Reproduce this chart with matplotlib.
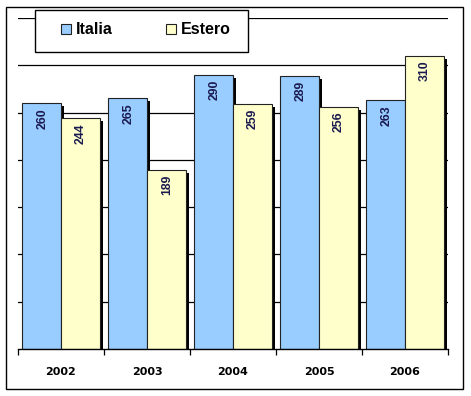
import numpy as np
import matplotlib
matplotlib.use("Agg")
import matplotlib.pyplot as plt
from matplotlib.patches import Rectangle

# data
anni = ["2002", "2003", "2004", "2005", "2006"]
italia = [260, 265, 290, 289, 263]
estero = [244, 189, 259, 256, 310]

col_italia = "#99CCFF"
col_estero = "#FFFFCC"
col_label = "#1a1a50"

W, H = 471, 396
fig = plt.figure(figsize=(W / 100, H / 100), dpi=100)
fig.patch.set_facecolor("white")

# plot area in pixels: x 18..448, y 18..349
ax = fig.add_axes([18 / W, 1 - 349 / H, 430 / W, 331 / H])
x = np.arange(len(anni))
bw = 0.45
dx = 3 / 86.0      # shadow offset (3 px) in category units
dy = 3 / 0.946     # shadow offset (3 px) in value units

# shadows first
ax.bar(x - 0.227 + dx, np.array(italia) - dy, bw, color="black", zorder=2)
ax.bar(x + 0.223 + dx, np.array(estero) - dy, bw, color="black", zorder=2)

b1 = ax.bar(x - 0.227, italia, bw, color=col_italia, edgecolor="#222222",
            linewidth=0.8, zorder=3, label="Italia")
b2 = ax.bar(x + 0.223, estero, bw, color=col_estero, edgecolor="#222222",
            linewidth=0.8, zorder=3, label="Estero")

for bars, vals in ((b1, italia), (b2, estero)):
    for r, v in zip(bars, vals):
        ax.annotate(str(v), (r.get_x() + r.get_width() / 2, v),
                    xytext=(0.5, -3.5), textcoords="offset points",
                    ha="center", va="top", rotation=90,
                    family="Liberation Sans", fontsize=8.8, fontweight="bold",
                    color=col_label, zorder=4)

ax.set_xlim(-0.5, len(anni) - 0.5)
ax.set_ylim(0, 350)
ax.set_yticks(np.arange(50, 351, 50))
ax.yaxis.grid(True, color="black", linewidth=0.9, zorder=1)
ax.set_axisbelow(True)
ax.tick_params(axis="y", left=False, labelleft=False)

ax.set_xticks(x)
ax.set_xticklabels(anni, fontsize=8, fontweight="bold")
ax.set_xticks(np.arange(-0.5, len(anni), 1), minor=True)
ax.tick_params(axis="x", which="major", length=0, pad=13)
ax.tick_params(axis="x", which="minor", length=4, width=0.9, color="black")

for s in ("left", "right", "top"):
    ax.spines[s].set_visible(False)
ax.spines["bottom"].set_linewidth(1.0)
ax.spines["bottom"].set_zorder(5)

# legend box
fig.patches.append(Rectangle((35 / W, 1 - 52 / H), 213 / W, 42 / H,
                             transform=fig.transFigure, facecolor="white",
                             edgecolor="black", linewidth=1.0, zorder=10))
leg = fig.legend(handles=[b1, b2], loc="center",
                 bbox_to_anchor=(146 / W, 1 - 30 / H), ncol=2, frameon=False,
                 prop={"family": "Liberation Sans", "weight": "bold", "size": 11.5},
                 handlelength=0.6, handleheight=0.6,
                 handletextpad=0.3, columnspacing=3.35, borderpad=0)
leg.set_zorder(11)

# outer border
fig.patches.append(Rectangle((6 / W, 1 - 389 / H), 457 / W, 382 / H,
                             transform=fig.transFigure, facecolor="none",
                             edgecolor="black", linewidth=1.0, zorder=12))

fig.savefig("out.png", dpi=100)
